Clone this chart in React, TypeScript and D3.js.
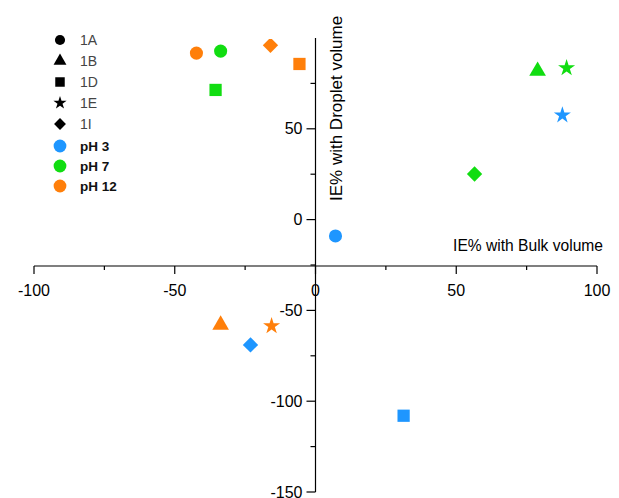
import React from "react";
import * as d3 from "d3";

// Samples and conditions
const samples = ["1A", "1B", "1D", "1E", "1I"];
const conditions = ["pH 3", "pH 7", "pH 12"];
const conditionColors = ["#1E96FF", "#11DD11", "#FF7F0A"];

// IE% values: [sample, bulk volume (x), droplet volume (y)]
const pH3Points: [string, number, number][] = [
  ["1A", 7.1, -9.0],
  ["1D", 31.3, -108],
  ["1E", 87.7, 57.5],
  ["1I", -23.1, -69],
];
const pH7Points: [string, number, number][] = [
  ["1A", -33.7, 92.8],
  ["1B", 78.9, 81.8],
  ["1D", -35.5, 71.4],
  ["1E", 89.2, 83.5],
  ["1I", 56.5, 25.1],
];
const pH12Points: [string, number, number][] = [
  ["1A", -42.3, 91.7],
  ["1B", -33.7, -58],
  ["1D", -5.7, 85.7],
  ["1E", -15.6, -58.6],
  ["1I", -16, 96],
];

const xMajorTicks = [-100, -50, 0, 50, 100];
const xMinorTicks = [-75, -25, 25, 75];
const yMajorTicks = [-150, -100, -50, 0, 50];
const yMinorTicks = [-125, -75, -25, 25, 75];

const W = 619;
const H = 498;

const x = d3.scaleLinear().domain([-100, 100]).range([34, 597]);
const y = d3.scaleLinear().domain([-150, 100]).range([492, 38]);
const xAxisY = 266;

const shapeFor: Record<string, d3.SymbolType> = {
  "1A": d3.symbolCircle,
  "1B": d3.symbolTriangle,
  "1D": d3.symbolSquare,
  "1E": d3.symbolStar,
  "1I": d3.symbolDiamond2,
};
const sizeFor: Record<string, number> = {
  "1A": 135,
  "1B": 120,
  "1D": 150,
  "1E": 90,
  "1I": 150,
};

function symbolPath(sample: string, scale = 1) {
  return d3.symbol().type(shapeFor[sample]).size(sizeFor[sample] * scale)() as string;
}

const font = "'Liberation Sans', Arial, sans-serif";

export default function App() {
  const series = [pH3Points, pH7Points, pH12Points];
  return (
    <svg width={W} height={H} style={{ position: "absolute", left: 0, top: 0, background: "#fff" }}>
      <defs>
        <clipPath id="plot-clip">
          <rect x={0} y={39} width={W} height={H - 39} />
        </clipPath>
      </defs>

      {/* x axis */}
      <g fontFamily={font} fontSize={16} fill="#000">
        <line x1={x(-100)} x2={x(100)} y1={xAxisY} y2={xAxisY} stroke="#000" strokeWidth={1.2} />
        {xMajorTicks.map((t) => (
          <g key={t}>
            <line x1={x(t)} x2={x(t)} y1={xAxisY} y2={xAxisY + 8} stroke="#000" strokeWidth={1.2} />
            <text x={x(t)} y={xAxisY + 30} textAnchor="middle">{t}</text>
          </g>
        ))}
        {xMinorTicks.map((t) => (
          <line key={t} x1={x(t)} x2={x(t)} y1={xAxisY} y2={xAxisY + 4} stroke="#000" strokeWidth={1.2} />
        ))}
        <text x={603} y={251} textAnchor="end" fontSize={15.6}>IE% with Bulk volume</text>
      </g>

      {/* y axis */}
      <g fontFamily={font} fontSize={16} fill="#000">
        <line x1={x(0)} x2={x(0)} y1={y(100)} y2={y(-150)} stroke="#000" strokeWidth={1.2} />
        {yMajorTicks.map((t) => (
          <g key={t}>
            <line x1={x(0) - 9} x2={x(0)} y1={y(t)} y2={y(t)} stroke="#000" strokeWidth={1.2} />
            <text x={x(0) - 13} y={y(t)} dy="0.35em" textAnchor="end">{t}</text>
          </g>
        ))}
        {yMinorTicks.map((t) => (
          <line key={t} x1={x(0) - 5} x2={x(0)} y1={y(t)} y2={y(t)} stroke="#000" strokeWidth={1.2} />
        ))}
        <text
          transform={`translate(342,201) rotate(-90)`}
          textAnchor="start"
          fontSize={17}
        >
          IE% with Droplet volume
        </text>
      </g>

      {/* data points */}
      <g clipPath="url(#plot-clip)">
        {series.map((pts, ci) =>
          pts.map(([s, vx, vy]) => (
            <path
              key={`${ci}-${s}`}
              d={symbolPath(s)}
              transform={`translate(${x(vx)},${y(vy)})`}
              fill={conditionColors[ci]}
            />
          ))
        )}
      </g>

      {/* legend */}
      <g fontFamily={font} fontSize={14}>
        {samples.map((s, i) => (
          <g key={s} transform={`translate(60,${40 + i * 21})`}>
            <path d={symbolPath(s, 0.6)} fill="#000" />
            <text x={20} dy="0.35em" fill="#444">{s}</text>
          </g>
        ))}
        {conditions.map((c, i) => (
          <g key={c} transform={`translate(60,${146 + i * 20})`}>
            <path d={symbolPath("1A", 0.95)} fill={conditionColors[i]} />
            <text x={20} dy="0.35em" fill="#111" fontWeight="bold" fontSize={13.5}>{c}</text>
          </g>
        ))}
      </g>
    </svg>
  );
}
